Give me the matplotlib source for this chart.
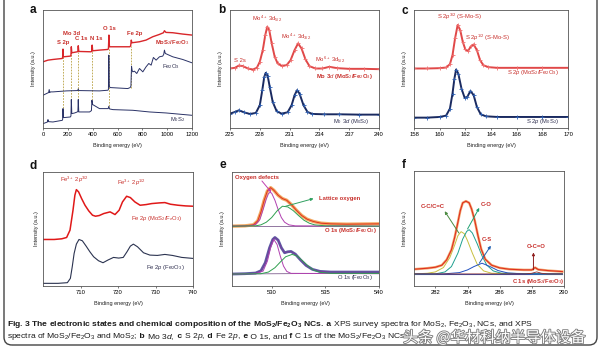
import matplotlib
matplotlib.use("Agg")
import matplotlib.pyplot as plt
from matplotlib.patches import FancyBboxPatch
from matplotlib import patheffects
from matplotlib.transforms import IdentityTransform

plt.rcParams['font.family'] = ['Liberation Sans', 'DejaVu Sans']
plt.rcParams['mathtext.fontset'] = 'custom'
plt.rcParams['mathtext.rm'] = 'Liberation Sans'
plt.rcParams['mathtext.it'] = 'Liberation Sans:italic'
plt.rcParams['mathtext.bf'] = 'Liberation Sans:bold'

# ---- panel a: survey spectra ----
a_red_x = [0, 40, 80, 155, 158, 161, 164, 220, 225, 228, 232, 276, 281, 284, 288, 385, 392, 396, 400, 455,
           522, 527, 531, 535, 700, 706, 711, 716, 777, 830, 884, 938, 970, 978, 990, 1045, 1125, 1200]
a_red_y = [198, 203, 205, 208, 210, 236, 213, 215, 217, 243, 225, 228, 229, 246, 229, 228, 229, 248, 231, 233,
           235, 237, 278, 243, 243, 246, 263, 255, 258, 263, 273, 280, 285, 291, 286, 285, 281, 278]
a_fe_x = [0, 45, 50, 54, 60, 80, 188, 280, 284, 288, 455, 522, 527, 530, 534, 540, 683, 702, 708, 713, 718, 723,
          737, 755, 777, 804, 830, 852, 871, 889, 911, 938, 964, 972, 978, 985, 1045, 1125, 1200]
a_fe_y = [98, 106, 115, 106, 108, 108, 111, 112, 117, 112, 111, 113, 115, 218, 125, 121, 118, 121, 125, 185, 172, 168,
          170, 163, 178, 168, 183, 193, 188, 211, 203, 213, 215, 220, 233, 223, 213, 205, 195]
a_mo_x = [0, 36, 40, 44, 80, 155, 158, 161, 164, 220, 225, 228, 232, 255, 276, 281, 284, 288, 375, 390, 394, 400,
          410, 455, 525, 530, 536, 563, 723, 857, 991, 1200]
a_mo_y = [13, 18, 25, 19, 18, 23, 25, 58, 31, 33, 36, 85, 43, 45, 48, 50, 85, 48, 48, 52, 83, 70,
          68, 58, 58, 65, 57, 55, 53, 48, 45, 38]
a_peaks = [161, 228, 284, 394, 530, 711]
a_peak_top = [213, 225, 228, 231, 240, 246]
a_peak_bot = [50, 85, 85, 83, 65, 121]
a_labels = ["S 2p", "Mo 3d", "C 1s", "N 1s", "O 1s", "Fe 2p"]
a_label_x = [166, 228, 308, 429, 536, 737]
a_label_y = [255, 283, 268, 268, 298, 283]

# ---- panel b: Mo 3d ----
b_red_x = [225, 225.5, 225.9, 226.3, 226.8, 227.3, 227.7, 228.0, 228.3, 228.55, 228.75, 228.95, 229.2, 229.5,
           229.8, 230.2, 230.7, 231.1, 231.5, 231.85, 232.2, 232.6, 233.0, 233.6, 234.3, 235.0, 235.8, 237, 238.5, 240]
b_red_y = [178, 180, 187, 185, 178, 175, 180, 198, 233, 278, 303, 293, 253, 213,
           193, 186, 188, 203, 233, 253, 238, 205, 185, 178, 178, 183, 179, 177, 177, 176]
b_blue_x = [225, 225.5, 225.9, 226.4, 227, 227.6, 228.0, 228.25, 228.45, 228.6, 228.8, 229.0, 229.3, 229.7,
            230.2, 230.8, 231.2, 231.5, 231.75, 232.0, 232.4, 232.8, 233.3, 234.5, 236, 238, 240]
b_blue_y = [43, 48, 53, 47, 42, 45, 68, 113, 153, 165, 155, 123, 78, 50,
            43, 47, 68, 98, 113, 103, 68, 48, 42, 41, 41, 40, 40]

# ---- panel c: S 2p ----
c_red_x = [158, 159, 160, 160.5, 160.8, 161.0, 161.2, 161.4, 161.6, 161.8, 162.0, 162.2, 162.45, 162.65,
           162.9, 163.15, 163.4, 163.8, 164.5, 166, 168, 170]
c_red_y = [178, 178, 179, 181, 191, 218, 268, 308, 293, 258, 235, 230, 245, 250,
           233, 203, 188, 182, 180, 180, 180, 180]
c_blue_x = [158, 159, 160, 160.5, 160.8, 161.0, 161.15, 161.28, 161.45, 161.7, 161.95, 162.15, 162.4, 162.65,
            162.9, 163.2, 163.6, 164.5, 166, 168, 170]
c_blue_y = [31, 31, 33, 37, 58, 103, 148, 175, 163, 118, 90, 93, 111, 98,
            63, 41, 35, 33, 33, 33, 33]

# ---- panel d: Fe 2p ----
d_red_x = [700, 703, 705, 706.3, 707.2, 708, 708.5, 708.9, 709.5, 710.3, 711.2, 712.2, 713.2, 714, 715, 716.2,
           717.9, 719.2, 720.3, 721.2, 722.3, 723.3, 724.5, 725.9, 727.5, 729, 731, 732.5, 734, 736, 738, 740]
d_red_y = [140, 140, 142, 146, 168, 228, 273, 290, 283, 263, 243, 226, 213, 210, 212, 218,
           223, 215, 228, 253, 270, 266, 253, 243, 245, 248, 250, 251, 246, 243, 241, 240]
d_dark_x = [700, 704, 706.5, 707.3, 707.8, 708.3, 708.9, 709.6, 710.5, 711.5, 712.5, 713.5, 714.8, 716, 717.3,
            718.8, 720.2, 721.4, 722.4, 723.3, 724.1, 725.2, 726.8, 728.5, 730.5, 732.5, 734.5, 737, 740]
d_dark_y = [8, 8, 10, 23, 58, 98, 126, 140, 136, 120, 103, 88, 76, 70, 78,
            86, 84, 86, 103, 120, 126, 118, 100, 93, 92, 95, 92, 86, 83]

# ---- panel e: O 1s ----
e_up_x = [526.3, 527.5, 528.3, 528.7, 529.0, 529.3, 529.6, 529.9, 530.2, 530.6, 531.0, 531.4, 531.8, 532.3,
          532.8, 533.3, 533.9, 534.6, 535.5, 537, 540]
e_up_y = [180, 181, 184, 196, 223, 258, 286, 296, 288, 273, 263, 258, 246, 228,
          212, 201, 194, 189, 187, 186, 187]
e_up_def_x = [526.3, 528.0, 528.5, 528.9, 529.2, 529.5, 529.7, 529.85, 530.0, 530.3, 530.6, 530.9, 531.2, 531.6, 532.2, 540]
e_up_def_y = [180, 181, 185, 200, 230, 262, 278, 282, 279, 258, 230, 206, 192, 184, 181, 180]
e_up_lat_x = [526.3, 528.5, 529.0, 529.5, 530.0, 530.5, 531.0, 531.5, 532.0, 532.5, 533.0, 533.5, 534.0, 535, 540]
e_up_lat_y = [180, 181, 184, 192, 206, 226, 240, 238, 227, 212, 198, 189, 184, 181, 180]
e_lo_x = [526.3, 527.5, 528.5, 529.0, 529.4, 529.8, 530.1, 530.3, 530.6, 530.9, 531.2, 531.5, 531.8, 532.2,
          532.7, 533.2, 533.8, 534.5, 535.5, 537, 540]
e_lo_y = [36, 37, 39, 46, 70, 115, 140, 146, 138, 115, 100, 103, 104, 96,
          78, 62, 50, 44, 42, 42, 42]
e_lo_def_x = [526.3, 528.5, 529.2, 529.6, 529.9, 530.2, 530.5, 530.8, 531.1, 531.4, 531.8, 540]
e_lo_def_y = [36, 37, 45, 75, 115, 140, 125, 90, 60, 44, 38, 37]
e_lo_lat_x = [526.3, 529.0, 529.7, 530.3, 530.8, 531.3, 531.9, 532.4, 532.9, 533.4, 533.9, 534.5, 535.5, 540]
e_lo_lat_y = [36, 37, 42, 55, 72, 88, 95, 90, 75, 60, 48, 41, 38, 38]
e_base_x = [526.3, 540]
e_up_base = [180, 180]
e_lo_base = [36, 39]

# ---- panel f: C 1s ----
f_env_x = [280.67, 281.5, 282.0, 282.4, 282.7, 283.0, 283.2, 283.4, 283.55, 283.7, 283.9, 284.1, 284.25, 284.45,
           284.65, 284.85, 285.1, 285.5, 286.0, 286.6, 287.5, 288.0, 288.2, 288.4, 289, 289.9]
f_env_y = [50, 53, 56, 62, 78, 108, 145, 190, 225, 248, 253, 248, 230, 195,
           150, 110, 80, 62, 54, 50, 48, 48, 55, 49, 46, 43]
f_cc_x = [280.67, 281.5, 282.0, 282.5, 282.9, 283.2, 283.4, 283.6, 283.8, 284.0, 284.3, 284.6, 285.0, 285.5, 289.9]
f_cc_y = [36, 38, 42, 55, 85, 122, 150, 162, 156, 135, 98, 65, 45, 38, 36]
f_co_x = [280.67, 282.0, 282.6, 283.0, 283.4, 283.7, 283.95, 284.1, 284.3, 284.6, 284.9, 285.2, 285.6, 286.1, 289.9]
f_co_y = [36, 36, 42, 58, 98, 140, 163, 168, 158, 126, 90, 62, 45, 38, 36]
f_cs_x = [280.67, 282.5, 283.5, 284.0, 284.4, 284.9, 285.4, 285.9, 286.5, 287.5, 289.9]
f_cs_y = [36, 36, 40, 48, 58, 68, 58, 46, 39, 36, 36]
f_oco_x = [280.67, 287.6, 288.0, 288.3, 288.6, 289.0, 289.9]
f_oco_y = [36, 36, 38, 42, 38, 36, 36]
f_base_x = [280.67, 289.9]
f_base_y = [36, 36]

RED = '#d8262a'
DARK = '#2a3266'
LRED = '#c8302c'
LDARK = '#303050'

W, H = 600, 349
fig = plt.figure(figsize=(6, 3.49), dpi=100)


def rect(l, r, t, b):
    return [l / W, 1 - b / H, (r - l) / W, (b - t) / H]


def setup(ax, xlim, ylim, ticks, ylab_x=-0.045):
    ax.set_xlim(xlim)
    ax.set_ylim(ylim)
    ax.set_xticks(ticks)
    ax.set_yticks([])
    ax.tick_params(axis='x', labelsize=4.2, length=1.5, width=0.5, pad=1.5, color='#444')
    for s in ax.spines.values():
        s.set_linewidth(0.6)
        s.set_color('#555555')
    ax.set_xlabel('Binding energy (eV)', fontsize=4.0, color='#222')
    ax.xaxis.set_label_coords(0.5, -0.13)
    ax.set_ylabel('Intensity (a.u.)', fontsize=4.0, color='#222')
    ax.yaxis.set_label_coords(ylab_x, 0.5)


def lab(ax, x, y, s, c=LRED, size=4.2, bold=False):
    ax.text(x, y, s, color=c, fontsize=size, ha='center', va='center',
            weight='bold' if bold else 'normal')


def arrow(ax, tail, head, c):
    ax.annotate('', xy=head, xytext=tail,
                arrowprops=dict(arrowstyle='-|>', color=c, lw=0.7, mutation_scale=4,
                                shrinkA=0, shrinkB=0))


# a
ax = fig.add_axes(rect(43, 192, 10, 128))
for px, t, b in zip(a_peaks, a_peak_top, a_peak_bot):
    ax.plot([px, px], [b, t], ls=(0, (2, 1.5)), color='#b8a040', lw=0.6, zorder=1)
ax.plot(a_mo_x, a_mo_y, color=DARK, lw=0.7)
ax.plot(a_fe_x, a_fe_y, color=DARK, lw=0.7)
ax.plot(a_red_x, a_red_y, color=RED, lw=1.0)
for s, x, y in zip(a_labels, a_label_x, a_label_y):
    lab(ax, x, y, s, bold=True)
lab(ax, 1045, 255, 'MoS$_2$/Fe$_2$O$_3$', bold=True)
lab(ax, 1031, 185, 'Fe$_2$O$_3$', c=LDARK)
lab(ax, 1085, 25, 'M$_0$S$_2$', c=LDARK)
setup(ax, (0, 1200), (0, 353), [0, 200, 400, 600, 800, 1000, 1200])

# b
ax = fig.add_axes(rect(230, 379, 10, 128))
ax.plot(b_blue_x, b_blue_y, color='#1a2a60', lw=1.4, marker='+', ms=2.6, mew=0.6, mec='#2f5fb0')
ax.plot(b_red_x, b_red_y, color='#e04848', lw=1.4, marker='+', ms=2.6, mew=0.6, mec='#f07070')
lab(ax, 228.7, 325, 'Mo$^{4+}$ 3d$_{5/2}$')
lab(ax, 231.7, 273, 'Mo$^{4+}$ 3d$_{3/2}$')
lab(ax, 235.05, 203, 'Mo$^{6+}$ 3d$_{5/2}$')
lab(ax, 226.0, 203, 'S 2s')
lab(ax, 236.55, 155, 'Mo 3$d$ (MoS$_2$/Fe$_2$O$_3$)', bold=True)
lab(ax, 237.2, 18, 'M$_0$ 3$d$ (M$_0$S$_2$)', c=LDARK)
setup(ax, (225, 240), (0, 353), [225, 228, 231, 234, 237, 240])

# c
ax = fig.add_axes(rect(414, 568, 10, 128))
ax.plot(c_blue_x, c_blue_y, color='#1a2a60', lw=1.4, marker='+', ms=2.6, mew=0.6, mec='#2f5fb0')
ax.plot(c_red_x, c_red_y, color='#e04848', lw=1.4, marker='+', ms=2.6, mew=0.6, mec='#f07070')
lab(ax, 161.57, 333, 'S 2$p^{3/2}$ (S-Mo-S)')
lab(ax, 163.78, 270, 'S 2$p^{1/2}$ (S-Mo-S)')
lab(ax, 167.27, 165, 'S 2$p$ (MoS$_2$/Fe$_2$O$_3$)')
lab(ax, 168.05, 18, 'S 2$p$ (M$_0$S$_2$)', c=LDARK)
setup(ax, (158, 170), (0, 353), [158, 160, 162, 164, 166, 168, 170], ylab_x=-0.043)

# d
ax = fig.add_axes(rect(43, 193, 172, 286))
ax.plot(d_dark_x, d_dark_y, color='#2b3350', lw=0.8)
ax.plot(d_red_x, d_red_y, color='#e01818', lw=1.1)
lab(ax, 708.5, 320, 'Fe$^{3+}$ 2$p^{3/2}$')
lab(ax, 723.7, 310, 'Fe$^{3+}$ 2$p^{1/2}$')
lab(ax, 730.4, 203, 'Fe 2$p$ (MoS$_2$/F$_{e}$O$_3$)')
lab(ax, 732.6, 56, 'Fe 2$p$ (Fe$_2$O$_3$)', c=LDARK)
setup(ax, (700, 740), (0, 343), [710, 720, 730, 740], ylab_x=-0.027)

# e
ax = fig.add_axes(rect(232, 379, 172, 286))
ax.plot(e_base_x, e_up_base, color='#806090', lw=0.6)
ax.plot(e_base_x, e_lo_base, color='#806090', lw=0.6)
ax.plot(e_up_x, e_up_y, color='#f0a050', lw=2.4, alpha=0.9)
ax.plot(e_up_x, e_up_y, color='#e03020', lw=0.7)
ax.plot(e_lo_x, e_lo_y, color='#4a4a9a', lw=2.0, alpha=0.9)
ax.plot(e_lo_x, e_lo_y, color='#7a3a9a', lw=0.6)
ax.plot(e_up_def_x, e_up_def_y, color='#b040b0', lw=0.7)
ax.plot(e_up_lat_x, e_up_lat_y, color='#30a050', lw=0.7)
ax.plot(e_lo_def_x, e_lo_def_y, color='#b040b0', lw=0.7)
ax.plot(e_lo_lat_x, e_lo_lat_y, color='#30a050', lw=0.7)
ax.text(526.6, 326, 'Oxygen defects', color=LRED, fontsize=4.2, weight='bold', va='center')
arrow(ax, (529.09, 316), (529.96, 282), '#c040b0')
ax.text(534.4, 263, 'Lattice oxygen', color=LRED, fontsize=4.2, weight='bold', va='center')
arrow(ax, (531.3, 240), (533.9, 263), '#30a060')
lab(ax, 537.3, 168, 'O 1s (MoS$_2$/Fe$_2$O$_3$)', bold=True)
lab(ax, 537.8, 25, 'O 1s (Fe$_2$O$_3$)', c=LDARK)
setup(ax, (526.3, 540), (0, 343), [530, 535, 540], ylab_x=-0.047)

# f
ax = fig.add_axes(rect(414, 564, 171, 286))
ax.plot(f_base_x, f_base_y, color='#3050b0', lw=0.8)
ax.plot(f_cc_x, f_cc_y, color='#c8c040', lw=0.7)
ax.plot(f_co_x, f_co_y, color='#20a090', lw=0.7)
ax.plot(f_cs_x, f_cs_y, color='#2050c0', lw=0.7)
ax.plot(f_oco_x, f_oco_y, color='#903030', lw=0.6)
ax.plot(f_env_x, f_env_y, color='#f0a060', lw=1.8, alpha=0.9)
ax.plot(f_env_x, f_env_y, color='#e03020', lw=0.8)
lab(ax, 281.86, 238, 'C-C/C=C', bold=True)
lab(ax, 285.18, 243, 'C-O', bold=True)
lab(ax, 285.18, 138, 'C-S', bold=True)
lab(ax, 288.3, 118, 'O-C=O', bold=True)
arrow(ax, (283.46, 158), (282.58, 223), '#4a8a40')
arrow(ax, (284.0, 170), (284.73, 233), '#20a070')
arrow(ax, (284.73, 68), (285.45, 120), '#2060b0')
arrow(ax, (288.1, 48), (288.1, 100), '#902020')
lab(ax, 288.4, 13, 'C 1s (MoS$_2$/Fe$_2$O$_3$)', bold=True)
setup(ax, (280.67, 289.9), (0, 343), [282, 284, 286, 288, 290], ylab_x=-0.047)

# panel letters
for s, x, y in [('a', 33, 10), ('b', 222, 10), ('c', 405, 11), ('d', 33, 166), ('e', 223, 165), ('f', 404, 165)]:
    fig.text(x / W, 1 - y / H, s, fontsize=8.5, weight='bold', ha='center', va='center', color='#111')

# caption
rend = fig.canvas.get_renderer()


def caption_line(x, y, parts):
    for txt, w in parts:
        t = fig.text(x / W, 1 - y / H, txt, fontsize=6.1, weight=w, ha='left', va='center', color='#1a1a1a')
        x += t.get_window_extent(renderer=rend).width


caption_line(7, 324, [
    ("Fig. 3 The electronic states and chemical composition of the MoS$_\\mathbf{2}$/Fe$_\\mathbf{2}$O$_\\mathbf{3}$ NCs.", 'bold'),
    (" a", 'bold'),
    (" XPS survey spectra for MoS$_2$, Fe$_2$O$_3$, NCs, and XPS", 'normal')])
caption_line(7, 337, [
    ("spectra of MoS$_2$/Fe$_2$O$_3$ and MoS$_2$;", 'normal'), (" b", 'bold'), (" Mo 3$d$,", 'normal'),
    (" c", 'bold'), (" S 2$p$,", 'normal'), (" d", 'bold'), (" Fe 2$p$,", 'normal'), (" e", 'bold'),
    (" O 1s, and", 'normal'), (" f", 'bold'), (" C 1s of the MoS$_2$/Fe$_2$O$_3$ NCs", 'normal')])

# watermark
fig.text(403 / W, 1 - 337.5 / H, '头条 @华材科纳半导体设备', family=['Noto Sans CJK SC', 'DejaVu Sans'],
         fontsize=10.8, color='white', ha='left', va='center',
         path_effects=[patheffects.withStroke(linewidth=1.3, foreground='#808080')])

# rounded frame
frame = FancyBboxPatch((4, 4), 593, 370, boxstyle="round,pad=0,rounding_size=8",
                       transform=IdentityTransform(), fill=False, ec='#444444', lw=1.0)
fig.add_artist(frame)

fig.savefig('out.png', dpi=100)
